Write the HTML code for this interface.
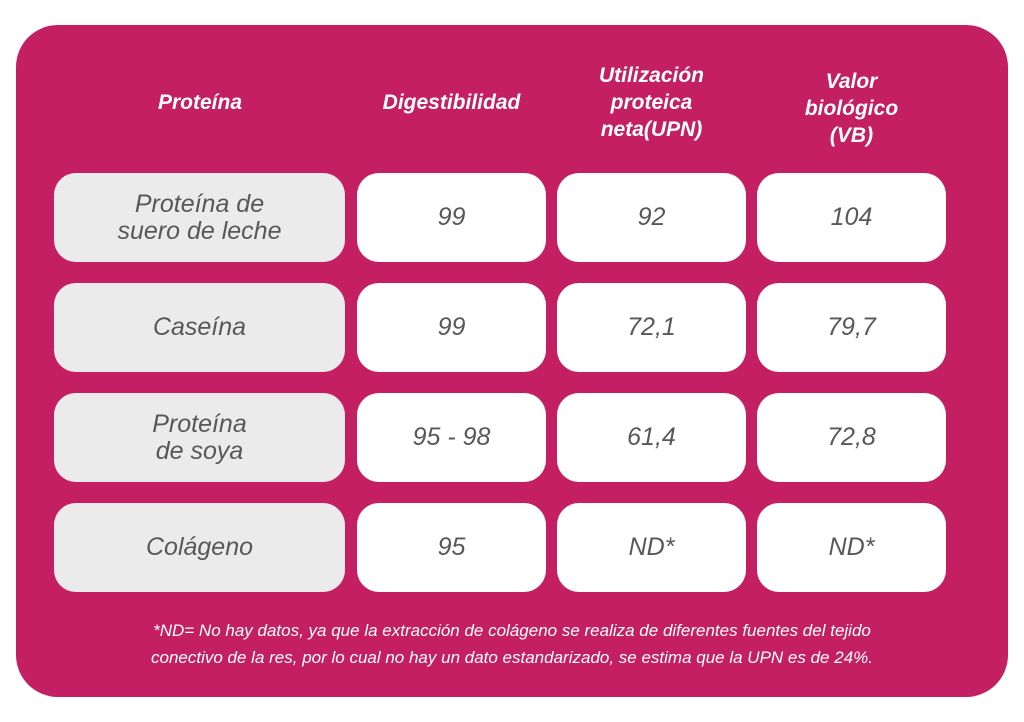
<!DOCTYPE html>
<html><head><meta charset="utf-8"><style>
body{margin:0;width:1024px;height:722px;background:#fff;position:relative;overflow:hidden;font-family:"Liberation Sans",sans-serif;}
.card{position:absolute;left:16px;top:25px;width:992px;height:672px;background:#C41F63;border-radius:42px;}
.h{position:absolute;color:#fff;font-weight:bold;font-style:italic;font-size:21px;line-height:27px;text-align:center;display:flex;align-items:center;justify-content:center;}
.c{position:absolute;background:#fff;border-radius:22px;color:#585858;font-style:italic;font-size:25px;line-height:27px;text-align:center;display:flex;align-items:center;justify-content:center;}
.c.g{background:#EBEBEB;}
.note{position:absolute;left:16px;width:992px;top:617px;color:#fff;font-style:italic;font-size:17px;line-height:27px;text-align:center;}
</style></head><body>
<div class="card"></div>
<div class="h" style="left:55px;top:75px;width:290px;height:55px">Proteína</div>
<div class="h" style="left:357px;top:75px;width:189px;height:55px">Digestibilidad</div>
<div class="h" style="left:557px;top:57px;width:189px;height:90px">Utilización<br>proteica<br>neta(UPN)</div>
<div class="h" style="left:757px;top:63px;width:189px;height:90px">Valor<br>biológico<br>(VB)</div>

<div class="c g" style="left:54px;top:173px;width:291px;height:89px">Proteína de<br>suero de leche</div>
<div class="c" style="left:357px;top:173px;width:189px;height:89px">99</div>
<div class="c" style="left:557px;top:173px;width:189px;height:89px">92</div>
<div class="c" style="left:757px;top:173px;width:189px;height:89px">104</div>

<div class="c g" style="left:54px;top:283px;width:291px;height:89px">Caseína</div>
<div class="c" style="left:357px;top:283px;width:189px;height:89px">99</div>
<div class="c" style="left:557px;top:283px;width:189px;height:89px">72,1</div>
<div class="c" style="left:757px;top:283px;width:189px;height:89px">79,7</div>

<div class="c g" style="left:54px;top:393px;width:291px;height:89px">Proteína<br>de soya</div>
<div class="c" style="left:357px;top:393px;width:189px;height:89px">95 - 98</div>
<div class="c" style="left:557px;top:393px;width:189px;height:89px">61,4</div>
<div class="c" style="left:757px;top:393px;width:189px;height:89px">72,8</div>

<div class="c g" style="left:54px;top:503px;width:291px;height:89px">Colágeno</div>
<div class="c" style="left:357px;top:503px;width:189px;height:89px">95</div>
<div class="c" style="left:557px;top:503px;width:189px;height:89px">ND*</div>
<div class="c" style="left:757px;top:503px;width:189px;height:89px">ND*</div>

<div class="note">*ND= No hay datos, ya que la extracción de colágeno se realiza de diferentes fuentes del tejido<br>conectivo de la res, por lo cual no hay un dato estandarizado, se estima que la UPN es de 24%.</div>
</body></html>
